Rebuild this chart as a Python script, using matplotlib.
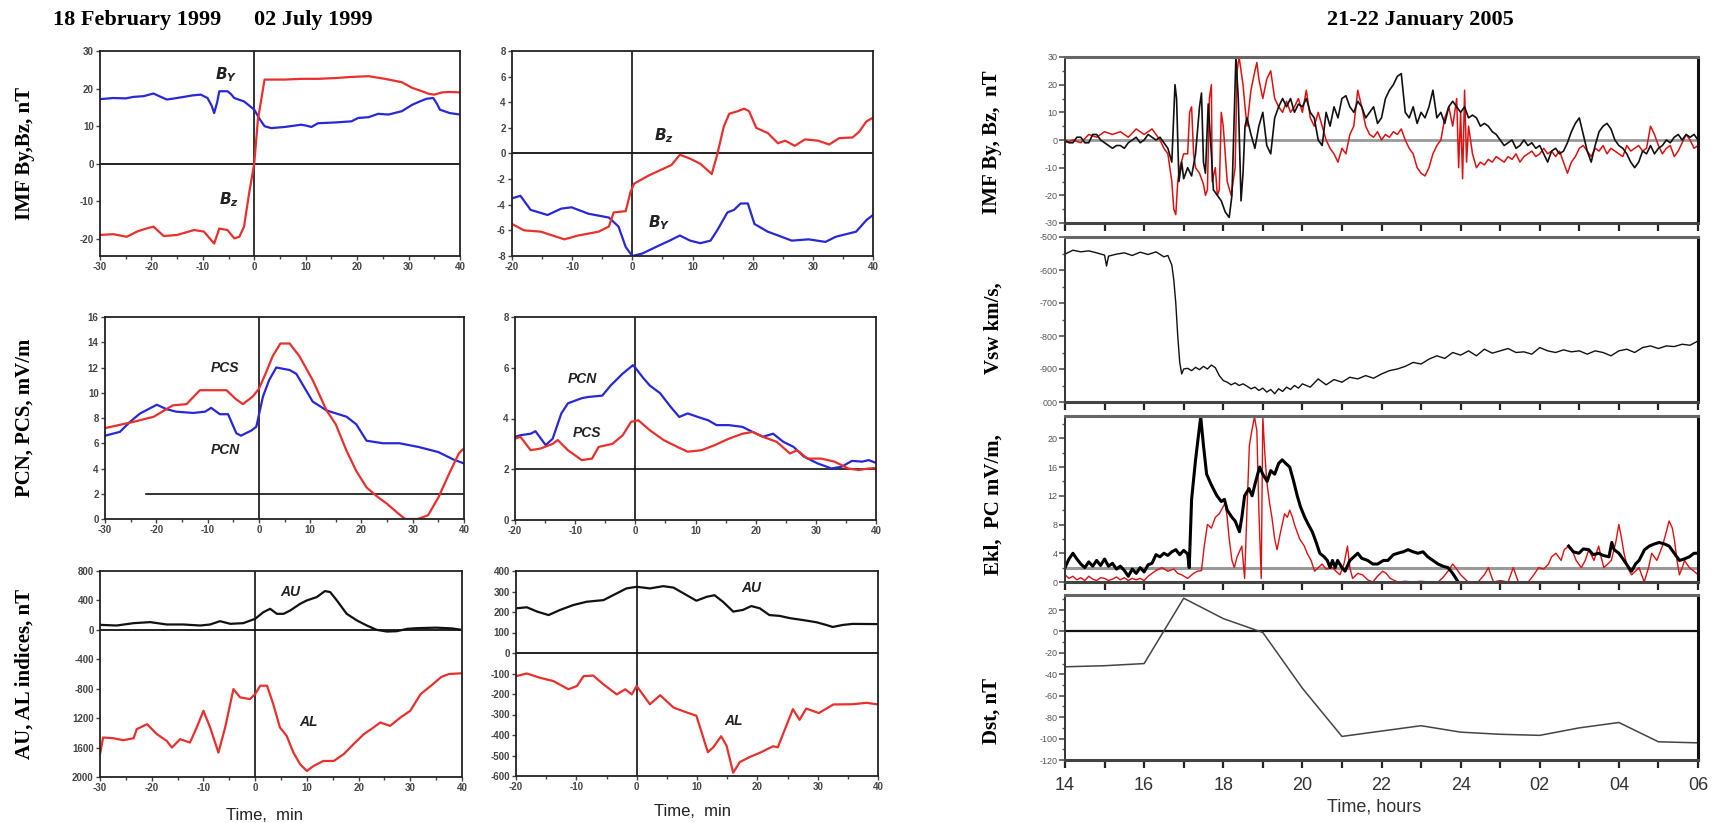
import numpy as np
import matplotlib
matplotlib.use('Agg')
import matplotlib.pyplot as plt
from matplotlib.ticker import MultipleLocator, FixedLocator

plt.rcParams['axes.unicode_minus'] = False

# ---------------- data: 18 February 1999 ----------------
feb_by = [(-30, 17.2), (-27.4, 17.5), (-25, 17.4), (-23.5, 17.8), (-21.5, 18.0), (-19.6, 18.7),
          (-18.5, 18.0), (-17, 17.1), (-15.5, 17.4), (-13.7, 17.8), (-12, 18.2), (-10.4, 18.4),
          (-9.1, 17.5), (-8.3, 15.5), (-7.8, 13.5), (-7.2, 16.5), (-6.8, 19.3), (-5.2, 19.3),
          (-4.5, 18.5), (-3.9, 17.5), (-2.0, 16.6), (-1, 15.5), (0, 14.4), (1, 12), (2, 10.0),
          (3.3, 9.5), (5.9, 9.8), (9.1, 10.4), (10, 10.2), (11.1, 9.8), (12.4, 10.8), (15.7, 11.0),
          (18.9, 11.3), (20.2, 12.2), (22.2, 12.4), (24.1, 13.3), (26.1, 13.1), (28.7, 14.0),
          (30.7, 15.7), (32.2, 16.6), (33.5, 17.3), (34.8, 17.5), (35.5, 16), (36.1, 14.4),
          (38, 13.5), (40, 13.1)]
feb_bz = [(-30, -18.9), (-27.4, -18.7), (-24.8, -19.4), (-22.8, -18.0), (-21, -17.2), (-19.6, -16.7),
          (-17.6, -19.2), (-15, -18.9), (-11.7, -17.6), (-9.8, -18.0), (-7.8, -21.2), (-6.8, -17.2),
          (-5.2, -17.6), (-3.9, -19.8), (-2.9, -19.4), (-2.0, -16.7), (-1.0, -7.8), (0, 0.2),
          (0.7, 11.7), (2.0, 22.4), (5.9, 22.4), (9.1, 22.6), (12.4, 22.6), (15.7, 22.8),
          (18.9, 23.1), (22.2, 23.3), (25.4, 22.6), (28.7, 21.7), (30.7, 20.2), (32.6, 19.3),
          (34, 18.6), (35, 18.4), (36.5, 19.0), (38, 19.1), (40, 19.0)]
feb_pcn = [(-30, 6.6), (-27.1, 6.9), (-25.1, 7.7), (-23.2, 8.35), (-19.9, 9.05), (-18, 8.7),
           (-16.1, 8.5), (-12.8, 8.4), (-10.5, 8.5), (-9.3, 8.8), (-7.6, 8.3), (-6, 8.3),
           (-4.4, 6.8), (-3.5, 6.6), (-1.5, 7.0), (-0.5, 7.3), (0.8, 9.7), (2, 11), (3.4, 12.0),
           (6.0, 11.8), (7.3, 11.5), (10.5, 9.3), (13.2, 8.6), (17.1, 8.1), (19.0, 7.5), (21, 6.2),
           (24.2, 6.0), (27.4, 6.0), (31.2, 5.7), (35, 5.3), (38, 4.7), (40, 4.4)]
feb_pcs = [(-30, 7.2), (-24.4, 7.7), (-20.5, 8.1), (-16.8, 9.0), (-14.1, 9.1), (-11.5, 10.2),
           (-8.9, 10.2), (-6.3, 10.2), (-4.5, 9.5), (-3.1, 9.1), (-1.2, 9.7), (0, 10.3),
           (1.4, 11.6), (2.7, 12.9), (4.2, 13.9), (6.0, 13.9), (7.9, 12.9), (10.5, 11.0),
           (13.2, 8.6), (15, 7.5), (17.1, 5.4), (19, 3.8), (21, 2.5), (23, 1.8), (25, 1.2),
           (27, 0.5), (28.5, 0.0), (31, 0.0), (33, 0.3), (35, 1.7), (37, 3.5), (39, 5.2), (40, 5.6)]
feb_au = [(-30, 68), (-26.8, 59), (-23.5, 91), (-20.3, 105), (-17.1, 73), (-13.9, 73), (-10.6, 59),
          (-8.7, 73), (-6.8, 118), (-4.8, 82), (-2.3, 91), (0, 150), (1.6, 241), (2.9, 286),
          (4.2, 218), (5.5, 218), (6.8, 264), (8.7, 354), (10, 400), (11.9, 445), (13.5, 527),
          (14.5, 514), (15.8, 400), (17.7, 218), (19.7, 127), (21.6, 59), (23.5, 0), (25.5, -23),
          (27.4, -18), (29.4, 14), (31.3, 23), (35, 30), (38, 20), (40, 0)]
feb_al = [(-30, -1690), (-29.4, -1463), (-27.4, -1473), (-25.5, -1500), (-23.5, -1473),
          (-22.9, -1350), (-20.9, -1282), (-19, -1418), (-17.1, -1509), (-16.1, -1600),
          (-14.5, -1486), (-12.6, -1532), (-11.3, -1327), (-10, -1100), (-8.7, -1327),
          (-7.1, -1668), (-5.8, -1327), (-4.2, -805), (-2.9, -918), (-1.0, -941), (0, -873),
          (1, -759), (2.3, -759), (3.5, -1009), (4.8, -1327), (6.1, -1441), (7.4, -1668),
          (8.7, -1827), (10, -1918), (11.3, -1850), (13.2, -1782), (15.2, -1782), (17.1, -1691),
          (19, -1555), (21, -1418), (22.9, -1327), (24.2, -1259), (26.1, -1305), (28.1, -1191),
          (30, -1100), (32, -873), (34, -760), (36, -640), (37.5, -600), (40, -590)]

# ---------------- data: 02 July 1999 ----------------
jul_by = [(-20, -3.5), (-18.6, -3.3), (-16.9, -4.4), (-14.1, -4.8), (-11.8, -4.3), (-10.1, -4.2),
          (-7.3, -4.7), (-3.9, -5.0), (-2.3, -5.7), (-1.1, -7.3), (0, -8.0), (1.7, -7.8),
          (3.9, -7.3), (6.2, -6.8), (7.9, -6.4), (9.6, -6.8), (11.3, -7.0), (13.0, -6.8),
          (14.1, -6.0), (15.8, -4.6), (16.9, -4.4), (18.0, -3.9), (19.2, -3.9), (20.3, -5.5),
          (22.5, -6.1), (24.8, -6.5), (26.5, -6.8), (29.3, -6.7), (32.1, -6.9), (33.8, -6.5),
          (35.5, -6.3), (37.2, -6.1), (38.9, -5.2), (40, -4.8)]
jul_bz = [(-20, -5.5), (-18, -6.0), (-15.2, -6.1), (-11.3, -6.7), (-9.0, -6.4), (-5.6, -6.1),
          (-3.9, -5.7), (-3.1, -4.6), (-1.1, -4.5), (-0.3, -3.0), (0.3, -2.35), (2.8, -1.7),
          (5.1, -1.2), (6.5, -0.9), (7.9, -0.1), (9.6, -0.4), (11.3, -0.8), (13.2, -1.6),
          (14.1, -0.1), (15.2, 2.1), (16.1, 3.1), (17.5, 3.3), (18.6, 3.5), (19.4, 3.3),
          (20.6, 2.0), (22.5, 1.6), (24.2, 0.8), (25.4, 1.0), (27.0, 0.6), (28.7, 1.1),
          (30.9, 1.0), (32.7, 0.7), (34.4, 1.2), (36.6, 1.25), (37.7, 1.7), (38.9, 2.5), (40, 2.8)]
jul_pcn = [(-20, 3.28), (-19.1, 3.34), (-17.4, 3.4), (-16.6, 3.5), (-14.9, 2.95), (-13.75, 3.2),
           (-12.3, 4.2), (-11.2, 4.6), (-8.9, 4.8), (-7.8, 4.85), (-5.5, 4.9), (-4.1, 5.3),
           (-2.1, 5.77), (-0.4, 6.1), (0, 6.0), (1.3, 5.6), (2.4, 5.3), (4.1, 5.0), (5.9, 4.45),
           (7.3, 4.06), (8.7, 4.2), (10.4, 4.06), (12.1, 3.93), (13.5, 3.74), (15.5, 3.74),
           (17.8, 3.67), (19.5, 3.47), (21.2, 3.28), (22.9, 3.4), (24.6, 3.08), (26.3, 2.88),
           (28, 2.5), (30.3, 2.23), (32.6, 2.03), (34.3, 2.1), (36, 2.33), (37.7, 2.3),
           (38.8, 2.36), (40, 2.25)]
jul_pcs = [(-20, 3.2), (-19.1, 3.28), (-17.4, 2.75), (-15.7, 2.82), (-13.75, 3.0), (-12.9, 3.15),
           (-11.2, 2.75), (-8.9, 2.36), (-7.2, 2.42), (-6.1, 2.88), (-3.8, 3.0), (-2.1, 3.34),
           (-0.7, 3.87), (0.5, 3.93), (2.4, 3.54), (4.7, 3.15), (7.0, 2.88), (8.7, 2.69),
           (11, 2.75), (13.2, 2.95), (15.5, 3.2), (17.8, 3.4), (19.5, 3.47), (21.2, 3.28),
           (23.5, 3.08), (25.7, 2.62), (26.9, 2.75), (28.6, 2.42), (30.9, 2.42), (33.1, 2.3),
           (35.4, 2.03), (37.1, 1.97), (38.8, 2.03), (40, 2.05)]
jul_au = [(-20, 218), (-18.2, 223), (-16.5, 202), (-14.6, 185), (-12.7, 210), (-10.5, 234),
          (-8.3, 250), (-5.5, 258), (-3.9, 282), (-1.7, 315), (0, 323), (2.2, 315), (4.4, 326),
          (6.1, 319), (8.3, 282), (9.9, 255), (11.6, 274), (12.9, 282), (14.3, 250), (16, 202),
          (17.6, 210), (19, 229), (20.4, 218), (22, 185), (23.7, 181), (25.4, 170), (27.5, 161),
          (29.8, 150), (31.4, 137), (32.5, 127), (34.2, 137), (35.8, 142), (39.8, 141)]
jul_al = [(-20, -113), (-18.2, -100), (-16, -121), (-13.8, -137), (-11.3, -177), (-9.9, -161),
          (-8.8, -113), (-7.2, -110), (-5.5, -153), (-3.3, -202), (-1.9, -177), (-0.8, -202),
          (0, -161), (2.2, -250), (3.9, -206), (6.1, -266), (8.3, -290), (9.9, -306), (11.8, -484),
          (12.7, -460), (14, -406), (14.9, -452), (16, -584), (17.1, -532), (18.7, -508),
          (20.4, -487), (22.6, -455), (23.4, -460), (24.8, -355), (25.9, -274), (27, -326),
          (28.1, -271), (30.2, -293), (32.6, -251), (35.8, -250), (38.1, -243), (40, -251)]

# ---------------- data: 21-22 January 2005 (hours, 24+ = next day) ----------------
jan_by = [(14.0, 0), (14.1, -1), (14.2, -1), (14.3, 1), (14.4, 1), (14.5, -1), (14.6, -1), (14.7, 2),
          (14.8, 2), (14.9, 0), (15.0, -1), (15.1, -2), (15.2, -3), (15.3, -2), (15.4, -2), (15.5, -3),
          (15.6, -1), (15.7, 0), (15.8, 1), (15.9, -1), (16.0, 0), (16.1, 2), (16.2, 1), (16.3, 0),
          (16.4, 1), (16.5, -1), (16.6, -3), (16.7, -8), (16.78, 20), (16.82, 15), (16.88, -15),
          (16.95, -8), (17.0, -14), (17.1, -10), (17.2, -13), (17.3, -5), (17.4, 12), (17.45, 17),
          (17.5, -8), (17.55, -12), (17.62, 13), (17.7, -5), (17.75, -18), (17.85, -20), (17.95, -22),
          (18.05, -26), (18.15, -28), (18.22, -20), (18.28, 10), (18.32, 30), (18.38, 15),
          (18.45, -22), (18.5, -12), (18.55, 5), (18.6, 8), (18.7, 2), (18.8, -3), (18.9, 5),
          (19.0, 10), (19.1, -2), (19.2, -5), (19.3, 8), (19.4, 12), (19.5, 15), (19.6, 12),
          (19.7, 15), (19.8, 10), (19.9, 13), (20.0, 12), (20.1, 15), (20.2, 10), (20.3, 8),
          (20.4, 0), (20.5, -2), (20.6, 10), (20.7, 5), (20.8, 12), (20.9, 8), (21.0, 15),
          (21.1, 16), (21.2, 12), (21.3, 10), (21.4, 14), (21.5, 12), (21.6, 8), (21.7, 10),
          (21.8, 12), (21.9, 6), (22.0, 8), (22.1, 15), (22.2, 18), (22.3, 20), (22.4, 23),
          (22.5, 24), (22.6, 10), (22.7, 8), (22.8, 12), (22.9, 6), (23.0, 10), (23.1, 8),
          (23.2, 12), (23.3, 18), (23.4, 8), (23.5, 10), (23.6, 6), (23.7, 12), (23.8, 14),
          (23.9, 12), (24.0, 10), (24.1, 12), (24.2, 8), (24.3, 9), (24.4, 8), (24.5, 5), (24.6, 6),
          (24.7, 5), (24.8, 3), (24.9, 2), (25.0, 0), (25.1, -2), (25.2, -1), (25.3, 0), (25.4, -3),
          (25.5, -2), (25.6, 0), (25.7, -2), (25.8, -1), (25.9, -3), (26.0, -2), (26.1, -5),
          (26.2, -8), (26.3, -4), (26.4, -3), (26.5, -5), (26.6, -4), (26.7, -1), (26.8, 3),
          (26.9, 6), (27.0, 8), (27.1, 2), (27.2, -4), (27.3, -8), (27.4, -2), (27.5, 3),
          (27.6, 5), (27.7, 6), (27.8, 4), (27.9, 0), (28.0, -2), (28.1, -3), (28.2, -5),
          (28.3, -8), (28.4, -10), (28.5, -8), (28.6, -4), (28.7, -5), (28.8, -2), (28.9, -5),
          (29.0, -3), (29.1, -2), (29.2, 0), (29.3, -1), (29.4, 1), (29.5, 2), (29.6, 0),
          (29.7, 2), (29.8, 1), (29.9, 2), (30.0, 0)]
jan_bz = [(14.0, -1), (14.2, 0), (14.4, -1), (14.6, 2), (14.8, 1), (15.0, 3), (15.2, 2), (15.4, 3),
          (15.6, 1), (15.8, 4), (16.0, 2), (16.2, 4), (16.4, 0), (16.5, -3), (16.6, -5), (16.7, -15),
          (16.75, -25), (16.8, -27), (16.85, -15), (16.9, -10), (17.0, -5), (17.1, -5), (17.15, 10),
          (17.2, 12), (17.25, -5), (17.3, -10), (17.4, -12), (17.5, -16), (17.55, -20), (17.6, -18),
          (17.65, 15), (17.7, 20), (17.72, -15), (17.8, -10), (17.85, -20), (17.9, -18), (17.95, 10),
          (18.0, 5), (18.1, -15), (18.2, -20), (18.3, -10), (18.35, 25), (18.4, 30), (18.45, 25),
          (18.5, 20), (18.55, 12), (18.6, 5), (18.7, 18), (18.8, 25), (18.85, 28), (18.9, 22),
          (19.0, 15), (19.1, 22), (19.2, 25), (19.3, 15), (19.4, 12), (19.5, 10), (19.6, 14),
          (19.7, 10), (19.8, 12), (19.9, 15), (20.0, 10), (20.1, 18), (20.2, 8), (20.3, 5),
          (20.4, 10), (20.5, 5), (20.6, 0), (20.7, -3), (20.8, -5), (20.9, -8), (21.0, -3),
          (21.1, -5), (21.2, 2), (21.3, 5), (21.4, 18), (21.5, 12), (21.6, 5), (21.7, 2), (21.8, 1),
          (21.9, 3), (22.0, 0), (22.1, 2), (22.2, 1), (22.3, 3), (22.4, 2), (22.5, 4), (22.6, 0),
          (22.7, -3), (22.8, -5), (22.9, -10), (23.0, -12), (23.1, -13), (23.2, -10), (23.3, -5),
          (23.4, -2), (23.5, 0), (23.6, 8), (23.7, 12), (23.8, 5), (23.9, 15), (23.95, -10),
          (24.0, 10), (24.05, -14), (24.1, 18), (24.15, -8), (24.2, 5), (24.3, -5), (24.4, -10),
          (24.5, -8), (24.6, -9), (24.7, -7), (24.8, -8), (24.9, -6), (25.0, -7), (25.1, -8),
          (25.2, -6), (25.3, -7), (25.4, -5), (25.5, -8), (25.6, -6), (25.7, -5), (25.8, -4),
          (25.9, -6), (26.0, -5), (26.1, -3), (26.2, -5), (26.3, -4), (26.4, -6), (26.5, -4),
          (26.6, -8), (26.7, -12), (26.8, -8), (26.9, -6), (27.0, -3), (27.1, -2), (27.2, -4),
          (27.3, -6), (27.4, -3), (27.5, -4), (27.6, -2), (27.7, -5), (27.8, -3), (27.9, -4),
          (28.0, -5), (28.1, -6), (28.2, -2), (28.3, -4), (28.4, -3), (28.5, -2), (28.6, -4),
          (28.7, -3), (28.8, 5), (28.9, 2), (29.0, -2), (29.1, -5), (29.2, -3), (29.3, -2),
          (29.4, -6), (29.5, -4), (29.6, -1), (29.7, 2), (29.8, 0), (29.9, -3), (30.0, -2)]
jan_vsw = [(14.0, -552), (14.2, -540), (14.4, -545), (14.6, -542), (14.8, -548), (15.0, -555),
           (15.05, -588), (15.1, -558), (15.3, -552), (15.5, -548), (15.7, -556), (15.9, -546),
           (16.1, -553), (16.3, -545), (16.5, -560), (16.6, -556), (16.7, -585), (16.75, -630),
           (16.8, -700), (16.85, -800), (16.9, -880), (16.95, -915), (17.0, -900), (17.1, -898),
           (17.2, -905), (17.3, -895), (17.4, -902), (17.5, -892), (17.6, -900), (17.7, -888),
           (17.8, -896), (17.9, -920), (18.0, -935), (18.1, -940), (18.2, -948), (18.3, -942),
           (18.4, -950), (18.5, -945), (18.6, -952), (18.7, -960), (18.8, -955), (18.9, -965),
           (19.0, -958), (19.1, -970), (19.2, -962), (19.3, -975), (19.4, -960), (19.5, -968),
           (19.6, -955), (19.7, -962), (19.8, -950), (19.9, -958), (20.0, -945), (20.2, -955),
           (20.4, -930), (20.6, -948), (20.8, -932), (21.0, -940), (21.2, -925), (21.4, -930),
           (21.6, -920), (21.8, -928), (22.0, -915), (22.2, -905), (22.4, -900), (22.6, -892),
           (22.8, -880), (23.0, -885), (23.2, -870), (23.4, -860), (23.6, -868), (23.8, -850),
           (24.0, -858), (24.2, -845), (24.4, -860), (24.6, -840), (24.8, -852), (25.0, -845),
           (25.2, -838), (25.4, -850), (25.6, -848), (25.8, -855), (26.0, -835), (26.2, -845),
           (26.4, -850), (26.6, -842), (26.8, -848), (27.0, -845), (27.2, -855), (27.4, -845),
           (27.6, -850), (27.8, -860), (28.0, -845), (28.2, -840), (28.4, -850), (28.6, -835),
           (28.8, -830), (29.0, -838), (29.2, -830), (29.4, -832), (29.6, -825), (29.8, -828),
           (30.0, -815)]
jan_ekl = [(14.0, 2), (14.1, 3.2), (14.2, 4), (14.3, 3.2), (14.4, 2.5), (14.5, 2), (14.6, 2.8),
           (14.7, 2.2), (14.8, 3), (14.9, 2.3), (15.0, 3.2), (15.1, 2.2), (15.2, 2.6), (15.3, 1.8),
           (15.4, 2.2), (15.5, 1.6), (15.6, 0.8), (15.7, 1.8), (15.8, 1.2), (15.9, 2), (16.0, 1.4),
           (16.1, 2.4), (16.2, 2.6), (16.3, 3.8), (16.4, 3.5), (16.5, 4), (16.6, 3.7), (16.7, 4.2),
           (16.8, 4.5), (16.9, 3.8), (17.0, 4.4), (17.1, 3.9), (17.14, 2), (17.2, 11.5), (17.3, 17),
           (17.43, 23), (17.5, 19), (17.58, 15), (17.7, 13.5), (17.84, 12), (17.95, 11.2),
           (18.03, 11.5), (18.1, 10), (18.22, 9), (18.3, 8.5), (18.41, 7), (18.47, 9), (18.54, 12),
           (18.65, 13), (18.73, 12), (18.82, 14), (18.92, 16), (19.0, 15), (19.11, 14),
           (19.2, 15.5), (19.3, 15), (19.4, 16.5), (19.49, 17), (19.58, 16.5), (19.68, 16),
           (19.78, 14), (19.87, 12), (19.95, 10.5), (20.06, 9), (20.15, 8), (20.25, 7),
           (20.35, 5.5), (20.44, 4), (20.55, 3.5), (20.63, 3), (20.7, 2), (20.76, 3), (20.83, 2),
           (20.89, 3), (21.0, 2), (21.08, 1.5), (21.2, 3), (21.3, 3.5), (21.4, 4), (21.5, 3.3),
           (21.65, 3), (21.78, 2.5), (21.9, 2.5), (22.05, 3), (22.16, 3), (22.3, 3.8), (22.41, 4),
           (22.55, 4.2), (22.67, 4.5), (22.8, 4.2), (22.92, 4), (23.05, 4.2), (23.17, 3.5),
           (23.3, 3), (23.43, 2.5), (23.55, 2.2), (23.68, 2), (23.8, 1.2), (23.94, 0),
           (24.0, np.nan), (26.73, 5), (26.85, 4.2), (26.99, 4), (27.1, 4.6), (27.24, 4.5),
           (27.35, 3.8), (27.49, 4), (27.6, 3.7), (27.75, 3.5), (27.82, 5.5), (27.88, 4.5),
           (28.0, 4), (28.13, 3), (28.25, 2), (28.32, 1.5), (28.42, 2.5), (28.51, 3), (28.65, 4.5),
           (28.77, 5), (28.9, 5.3), (29.02, 5.5), (29.15, 5.3), (29.27, 5), (29.4, 4), (29.53, 3),
           (29.65, 3.2), (29.78, 3.5), (29.9, 4), (30.0, 4)]
jan_pc = [(14.0, 1), (14.1, 0.5), (14.2, 0.8), (14.3, 0.3), (14.4, 0.6), (14.5, 0.2), (14.6, 0.8),
          (14.7, 0.4), (14.8, 0.2), (14.9, 0.6), (15.0, 0.5), (15.1, 0.2), (15.2, 0.4), (15.3, 0.7),
          (15.4, 0.3), (15.5, 0.6), (15.6, 0.2), (15.7, 0.5), (15.8, 0.3), (15.9, 0.5), (16.0, 0.2),
          (16.1, 0.8), (16.3, 1.6), (16.45, 2), (16.6, 1.5), (16.75, 1.8), (16.85, 1.2), (16.95, 1),
          (17.1, 0.5), (17.25, 1.2), (17.35, 1.5), (17.45, 1.6), (17.52, 5), (17.6, 8), (17.7, 7.5),
          (17.8, 9), (17.9, 9.5), (18.05, 11), (18.1, 9), (18.15, 6), (18.22, 3), (18.28, 2),
          (18.35, 3.5), (18.47, 5), (18.54, 0.5), (18.6, 10), (18.66, 19), (18.72, 21),
          (18.79, 23), (18.85, 21), (18.9, 10), (18.96, 0.5), (19.0, 23), (19.05, 18), (19.1, 14),
          (19.17, 11), (19.23, 9), (19.3, 6), (19.36, 4.5), (19.45, 7), (19.55, 9.5), (19.62, 9),
          (19.68, 10), (19.75, 9), (19.8, 8), (19.93, 6), (20.05, 5), (20.12, 4), (20.22, 3),
          (20.31, 1.5), (20.4, 2), (20.5, 2.5), (20.6, 1.8), (20.76, 2), (20.85, 1.5), (20.95, 1),
          (21.05, 2.5), (21.14, 5), (21.2, 2), (21.27, 0.5), (21.4, 1.2), (21.52, 1), (21.65, 0.3),
          (21.78, 0), (21.9, 0.8), (22.03, 1.5), (22.12, 1.2), (22.22, 0.5), (22.41, 0),
          (22.6, 0.1), (22.79, 0), (23.0, 0.1), (23.2, 0), (23.43, 0), (23.55, 0.6), (23.68, 1.5),
          (23.8, 2.5), (23.9, 1.8), (24.0, 1), (24.19, 0), (24.44, 0), (24.6, 1), (24.7, 2),
          (24.83, 0), (25.0, 0.2), (25.2, 0), (25.33, 2), (25.46, 0), (25.71, 0), (25.85, 1),
          (25.97, 2), (26.1, 1.8), (26.22, 2.5), (26.3, 3.5), (26.41, 4), (26.54, 3), (26.62, 4.5),
          (26.73, 5), (26.85, 4), (26.92, 3), (27.05, 2), (27.15, 3), (27.24, 4.5), (27.37, 3),
          (27.49, 5), (27.55, 3.5), (27.62, 2), (27.72, 2.5), (27.81, 3), (27.92, 5.5), (28.0, 8),
          (28.07, 6), (28.13, 4), (28.22, 2), (28.32, 1), (28.42, 1.5), (28.51, 2), (28.64, 0),
          (28.75, 2), (28.83, 4), (28.96, 3), (29.1, 5), (29.2, 7), (29.27, 8.5), (29.35, 7.5),
          (29.4, 6), (29.47, 3), (29.53, 1), (29.6, 2), (29.66, 3), (29.78, 2), (29.9, 1.5),
          (30.0, 1)]
jan_dst = [(14, -33), (15, -32), (16, -30), (17, 31), (18, 12), (19, -1), (20, -53), (21, -98),
           (22, -93), (23, -88), (24, -94), (25, -96), (26, -97), (27, -90), (28, -85), (29, -103),
           (30, -104)]
hour_ticks = [14, 16, 18, 20, 22, 24, 26, 28, 30]
hour_labels = ['14', '16', '18', '20', '22', '24', '02', '04', '06']

# ---------------- figure ----------------
W, H = 1725, 823
fig = plt.figure(figsize=(W / 100, H / 100), dpi=100)
SERIF = 'Liberation Serif'
SANS = 'Liberation Sans'
BLUE = '#2828d8'
RED = '#e8302c'


def box(x0, y0, x1, y1):
    return fig.add_axes([x0 / W, 1 - y1 / H, (x1 - x0) / W, (y1 - y0) / H])


def xy(pairs):
    a = np.array(pairs, dtype=float)
    return a[:, 0], a[:, 1]


def left_style(ax, xlim, ylim, yticks, ylabels=None):
    ax.set_xlim(*xlim)
    ax.set_ylim(*ylim)
    ax.xaxis.set_major_locator(MultipleLocator(10))
    ax.xaxis.set_minor_locator(MultipleLocator(5))
    ax.set_yticks(yticks)
    if ylabels is not None:
        ax.set_yticklabels(ylabels)
    ax.tick_params(which='both', direction='out', width=1, colors='#444', labelsize=7, pad=1.5)
    ax.tick_params(which='major', length=3)
    ax.tick_params(which='minor', length=2)
    for lab in ax.get_xticklabels() + ax.get_yticklabels():
        lab.set_fontweight('bold')
        lab.set_family(SANS)
    for s in ax.spines.values():
        s.set_linewidth(1.3)
        s.set_color('#222')
    ax.axvline(0, color='#333', lw=1.4, zorder=1)


def right_style(ax, ylim, yticks, ylabels, yminor, show_x=False):
    ax.set_xlim(14, 30)
    ax.set_ylim(*ylim)
    ax.xaxis.set_major_locator(FixedLocator(hour_ticks))
    ax.xaxis.set_minor_locator(MultipleLocator(1))
    ax.set_yticks(yticks)
    ax.set_yticklabels(ylabels)
    ax.yaxis.set_minor_locator(MultipleLocator(yminor))
    ax.tick_params(axis='y', which='both', direction='out', colors='#555', labelsize=6.5, pad=1.5)
    ax.tick_params(axis='y', which='major', length=4, width=1.2)
    ax.tick_params(axis='y', which='minor', length=2.5, width=1)
    ax.tick_params(axis='x', which='both', direction='out', length=6, width=1.6, colors='#222')
    if show_x:
        ax.set_xticklabels(hour_labels, fontsize=13, family=SANS, color='#333')
        ax.tick_params(axis='x', pad=6)
    else:
        ax.tick_params(axis='x', labelbottom=False)
    for lab in ax.get_yticklabels():
        lab.set_family(SANS)
    ax.spines['left'].set_linewidth(1.4)
    ax.spines['left'].set_color('#333')
    ax.spines['right'].set_linewidth(2.2)
    ax.spines['right'].set_color('#111')
    ax.spines['top'].set_linewidth(2.2)
    ax.spines['top'].set_color('#666')
    ax.spines['bottom'].set_linewidth(2.2)
    ax.spines['bottom'].set_color('#444')


def lab(ax, x, y, s, size=11):
    ax.text(x, y, s, fontsize=size, fontstyle='italic', fontweight='bold', family=SANS,
            color='#222', ha='center', va='center')


# --- 18 Feb: IMF ---
ax = box(100, 51, 460, 256)
left_style(ax, (-30, 40), (-24.5, 30), [-20, -10, 0, 10, 20, 30])
ax.axhline(0, color='#111', lw=1.3)
ax.plot(*xy(feb_by), color=BLUE, lw=1.6)
ax.plot(*xy(feb_bz), color=RED, lw=1.6)
lab(ax, -5.5, 23.6, r'$\mathbfit{B}_{\mathbfit{Y}}$')
lab(ax, -5.0, -9.6, r'$\mathbfit{B}_{\mathbfit{z}}$')

# --- 02 Jul: IMF ---
ax = box(512, 51, 873, 256)
left_style(ax, (-20, 40), (-8, 8), [-8, -6, -4, -2, 0, 2, 4, 6, 8])
ax.axhline(0, color='#111', lw=1.3)
ax.plot(*xy(jul_by), color=BLUE, lw=1.6)
ax.plot(*xy(jul_bz), color=RED, lw=1.6)
lab(ax, 5.3, 1.4, r'$\mathbfit{B}_{\mathbfit{z}}$')
lab(ax, 4.5, -5.4, r'$\mathbfit{B}_{\mathbfit{Y}}$')

# --- 18 Feb: PC ---
ax = box(105, 317, 464, 519)
left_style(ax, (-30, 40), (0, 16), list(range(0, 17, 2)))
ax.plot([-22, 40], [2, 2], color='#111', lw=1.2)
ax.plot(*xy(feb_pcn), color=BLUE, lw=1.6)
ax.plot(*xy(feb_pcs), color=RED, lw=1.6)
lab(ax, -6.6, 12.0, 'PCS', 10)
lab(ax, -6.6, 5.5, 'PCN', 10)

# --- 02 Jul: PC ---
ax = box(515, 317, 876, 520)
left_style(ax, (-20, 40), (0, 8), [0, 2, 4, 6, 8])
ax.axhline(2, color='#111', lw=1.2)
ax.plot(*xy(jul_pcn), color=BLUE, lw=1.6)
ax.plot(*xy(jul_pcs), color=RED, lw=1.6)
lab(ax, -8.8, 5.57, 'PCN', 10)
lab(ax, -8.0, 3.43, 'PCS', 10)

# --- 18 Feb: AU/AL ---
ax = box(100, 571, 462, 777)
left_style(ax, (-30, 40), (-2000, 800), list(range(-2000, 801, 400)),
           ['2000', '1600', '1200', '-800', '-400', '0', '400', '800'])
ax.axhline(0, color='#111', lw=1.3)
ax.plot(*xy(feb_au), color='#111', lw=1.6)
ax.plot(*xy(feb_al), color=RED, lw=1.6)
lab(ax, 6.8, 514, 'AU', 10)
lab(ax, 10.4, -1259, 'AL', 10)

# --- 02 Jul: AU/AL ---
ax = box(516, 571, 878, 776)
left_style(ax, (-20, 40), (-600, 400), list(range(-600, 401, 100)))
ax.axhline(0, color='#111', lw=1.3)
ax.plot(*xy(jul_au), color='#111', lw=1.6)
ax.plot(*xy(jul_al), color=RED, lw=1.6)
lab(ax, 19.0, 315, 'AU', 10)
lab(ax, 16.1, -331, 'AL', 10)

# --- Jan 2005: IMF ---
ax = box(1065, 57, 1698, 223)
right_style(ax, (-30, 30), list(range(-30, 31, 10)), [str(v) for v in range(-30, 31, 10)], 5)
ax.axhline(0, color='#999', lw=2)
ax.plot(*xy(jan_bz), color='#e01010', lw=1.1)
ax.plot(*xy(jan_by), color='#111', lw=1.2)

# --- Jan 2005: Vsw ---
ax = box(1065, 237, 1698, 402)
right_style(ax, (-1000, -500), list(range(-1000, -499, 100)),
            ['000', '-900', '-800', '-700', '-600', '-500'], 50)
ax.plot(*xy(jan_vsw), color='#111', lw=1.0)

# --- Jan 2005: Ekl, PC ---
ax = box(1065, 416, 1698, 582)
right_style(ax, (0, 23.1), [0, 4, 8, 12, 16, 20], ['0', '4', '8', '12', '16', '20'], 2)
ax.axhline(2, color='#999', lw=2.2)
ax.plot(*xy(jan_pc), color='#e01010', lw=1.0)
ax.plot(*xy(jan_ekl), color='#000', lw=2.2)

# --- Jan 2005: Dst ---
ax = box(1065, 595, 1698, 760)
right_style(ax, (-120, 34), list(range(-120, 21, 20)), [str(v) for v in range(-120, 21, 20)], 10,
            show_x=True)
ax.axhline(0, color='#111', lw=1.6)
ax.plot(*xy(jan_dst), color='#444', lw=1.1)

# ---------------- texts ----------------
ykw = dict(rotation=90, fontsize=15, fontweight='bold', family=SERIF, ha='center', va='center')
fig.text(25 / W, 1 - 153 / H, 'IMF By,Bz, nT', **ykw)
fig.text(25 / W, 1 - 418 / H, 'PCN, PCS, mV/m', **ykw)
fig.text(25 / W, 1 - 674 / H, 'AU, AL indices, nT', **ykw)
fig.text(992 / W, 1 - 142 / H, 'IMF By, Bz,  nT', **ykw)
fig.text(994 / W, 1 - 328 / H, 'Vsw km/s,', **ykw)
fig.text(994 / W, 1 - 505 / H, 'Ekl,  PC mV/m,', **ykw)
fig.text(992 / W, 1 - 711 / H, 'Dst, nT', **ykw)

tkw = dict(fontsize=16, fontweight='bold', family=SERIF, ha='center', va='center')
fig.text(137 / W, 1 - 20 / H, '18 February 1999', **tkw)
fig.text(313 / W, 1 - 20 / H, '02 July 1999', **tkw)
fig.text(1420 / W, 1 - 20 / H, '21-22 January 2005', **tkw)

fig.text(264 / W, 1 - 815 / H, 'Time,  min', fontsize=12, family=SANS, color='#222',
         ha='center', va='center')
fig.text(692 / W, 1 - 812 / H, 'Time,  min', fontsize=12, family=SANS, color='#222',
         ha='center', va='center')
fig.text(1374 / W, 1 - 807 / H, 'Time, hours', fontsize=13, family=SANS, color='#333',
         ha='center', va='center')

fig.savefig('out.png', dpi=100)
